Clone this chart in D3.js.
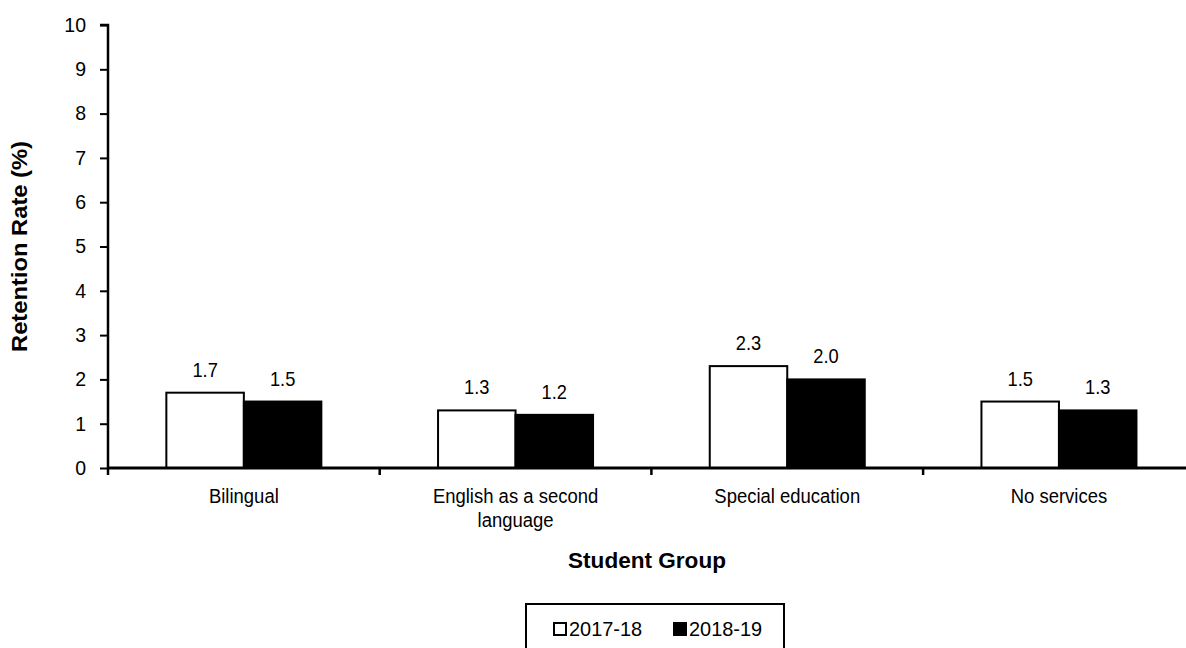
<!DOCTYPE html>
<html><head><meta charset="utf-8">
<script src="https://cdn.jsdelivr.net/npm/d3@7"></script>
<style>
body{margin:0;background:#fff;}
svg{display:block;font-family:"Liberation Sans",Arial,sans-serif;}
</style></head>
<body><svg id="c" width="1186" height="648"></svg>
<script>
const categories = [["Bilingual"], ["English as a second", "language"], ["Special education"], ["No services"]];
const seriesNames = ["2017-18", "2018-19"];
const values2017 = [1.7, 1.3, 2.3, 1.5];
const values2018 = [1.5, 1.2, 2.0, 1.3];
const yTicks = [0,1,2,3,4,5,6,7,8,9,10];

const FONT = "Liberation Sans, Arial, sans-serif";
const svg = d3.select("#c");
const x0 = 108, bandW = 271.7;
const x = d3.scaleBand().domain(d3.range(categories.length)).range([x0, x0 + bandW*categories.length]).padding(0);
const y = d3.scaleLinear().domain([0,10]).range([468,25]);
const barW = 77.5;
const fills = ["#fff", "#000"];
const series = [values2017, values2018];

// helper: condensed text placed at (px,py)
function label(parent, px, py, txt, opts) {
  const g = parent.append("g").attr("transform", `translate(${px},${py})`);
  const t = g.append("text").attr("transform", `scale(${opts.sx || 0.88},1)`)
    .attr("text-anchor", opts.anchor || "middle").attr("font-size", opts.size || 21)
    .attr("font-weight", opts.weight || "normal").attr("fill", "#000").text(txt);
  return g;
}

// bars
series.forEach((vals, s) => {
  svg.append("g").selectAll("rect").data(vals).join("rect")
    .attr("x", (d,i) => x(i) + x.bandwidth()/2 - barW + s*barW)
    .attr("y", d => y(d))
    .attr("width", barW)
    .attr("height", d => y(0) - y(d))
    .attr("fill", fills[s]).attr("stroke", "#000").attr("stroke-width", 2);
  vals.forEach((d, i) => {
    label(svg, x(i) + x.bandwidth()/2 - barW/2 + s*barW, y(d) - 16, d.toFixed(1), {size: 21, sx: 0.87});
  });
});

// y axis
const yAxis = d3.axisLeft(y).tickValues(yTicks).tickSize(8).tickPadding(8).tickFormat(d3.format("d"));
const gy = svg.append("g").attr("transform", `translate(${x0},0)`).call(yAxis)
  .attr("font-size", 21).attr("font-family", FONT);
gy.select(".domain").attr("stroke-width", 2.5).attr("d", `M-8,${y(10)}H0V${y(0)}`);
gy.selectAll(".tick line").attr("stroke-width", 2);
gy.selectAll(".tick text").attr("fill", "#000").attr("x", 0).attr("dy", "0.3em")
  .attr("transform", "translate(-22,0) scale(0.93,1)");

// x axis
const xAxis = d3.axisBottom(x).tickSize(0).tickFormat("");
const gx = svg.append("g").attr("transform", `translate(0,${y(0)})`).call(xAxis);
gx.select(".domain").attr("stroke-width", 3).attr("d", `M${x0},0H${x0 + bandW*categories.length}`);
const bounds = d3.range(categories.length + 1).map(i => x0 + i*bandW);
gx.selectAll("line.bt").data(bounds).join("line").attr("class","bt")
  .attr("x1", d => d).attr("x2", d => d).attr("y1", 0).attr("y2", 7)
  .attr("stroke", "#000").attr("stroke-width", 2.5);
// category labels
categories.forEach((lines, i) => {
  const cx = x(i) + x.bandwidth()/2;
  lines.forEach((l, k) => label(svg, cx, 503 + k*24, l, {size: 21, sx: 0.88}));
});

// axis titles
label(svg, 647, 568, "Student Group", {size: 21.5, sx: 1.05, weight: "bold"});
svg.append("g").attr("transform", `translate(27,${(y(0)+y(10))/2}) rotate(-90)`)
  .append("text").attr("transform", "scale(1.08,1)")
  .attr("text-anchor", "middle").attr("font-size", 22).attr("font-weight", "bold").text("Retention Rate (%)");

// legend
const lg = svg.append("g");
lg.append("rect").attr("x", 526).attr("y", 604).attr("width", 258).attr("height", 60)
  .attr("fill", "#fff").attr("stroke", "#000").attr("stroke-width", 2);
const legX = [553, 673];
seriesNames.forEach((n, s) => {
  lg.append("rect").attr("x", legX[s] + 1).attr("y", 623).attr("width", 12).attr("height", 12)
    .attr("fill", fills[s]).attr("stroke", "#000").attr("stroke-width", 2);
  label(lg, legX[s] + 16, 636, n, {size: 21, sx: 0.95, anchor: "start"});
});
</script></body></html>
